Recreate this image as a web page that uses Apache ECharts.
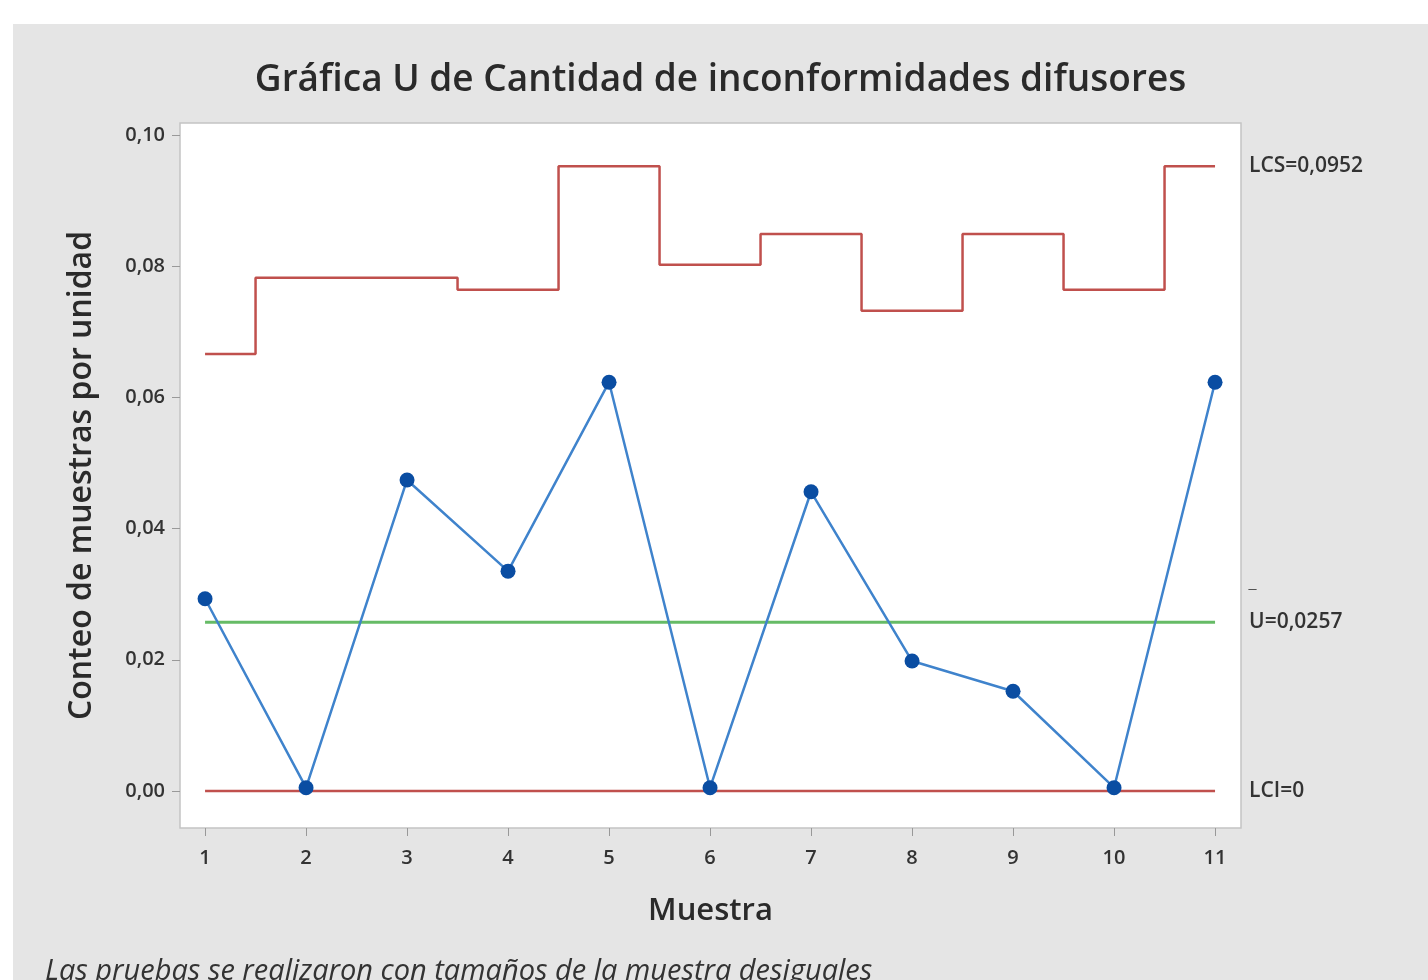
<!DOCTYPE html>
<html>
<head>
<meta charset="utf-8">
<script src="https://cdn.jsdelivr.net/npm/echarts@6/dist/echarts.min.js"></script>
<style>
  html, body { margin: 0; padding: 0; background: #fff; }
  #uchart { position: absolute; left: 13px; top: 24px; width: 1415px; height: 956px; background: #e5e5e5; }
</style>
</head>
<body>
<div id="uchart"></div>
<script>
// muestras y valores U
const samples = [1, 2, 3, 4, 5, 6, 7, 8, 9, 10, 11]
const uValues = [0.0293, 0.0005, 0.0474, 0.0335, 0.0623, 0.0005, 0.0456, 0.0198, 0.0152, 0.0005, 0.0623]
const uclValues = [0.0666, 0.0782, 0.0782, 0.0764, 0.0952, 0.0802, 0.0849, 0.0732, 0.0849, 0.0764, 0.0952]
const centerLine = 0.0257
const lowerLimit = 0
const yTicks = [0, 0.02, 0.04, 0.06, 0.08, 0.10]

const fmt = v => v.toFixed(2).replace('.', ',')
const font = 'Open Sans'
const red = '#c0504d'

const chart = echarts.init(document.getElementById('uchart'))

chart.setOption({
  animation: false,
  textStyle: { fontFamily: font },
  title: {
    text: 'Gráfica U de Cantidad de inconformidades difusores',
    left: 'center',
    top: 33,
    textStyle: { fontSize: 37, fontWeight: 600, color: '#2a2a2a', fontFamily: font }
  },
  grid: {
    left: 167, top: 99, width: 1061, height: 705,
    show: true, backgroundColor: '#fff', borderColor: '#c4c4c4', borderWidth: 1.5
  },
  xAxis: {
    type: 'value',
    min: 0.752,
    max: 11.257,
    name: 'Muestra',
    nameLocation: 'middle',
    nameGap: 68,
    nameTextStyle: { fontSize: 31, fontWeight: 600, color: '#2a2a2a' },
    splitLine: { show: false },
    axisLine: { show: false, onZero: false },
    axisTick: { show: true, length: 8, lineStyle: { color: '#999' }, customValues: samples },
    axisLabel: { fontSize: 20, fontWeight: 600, color: '#333', margin: 20, customValues: samples }
  },
  yAxis: {
    type: 'value',
    min: -0.00564,
    max: 0.1018,
    name: 'Conteo de muestras por unidad',
    nameLocation: 'middle',
    nameGap: 82,
    nameTextStyle: { fontSize: 32, fontWeight: 600, color: '#2a2a2a' },
    splitLine: { show: false },
    axisLine: { show: false, onZero: false },
    axisTick: { show: true, length: 8, lineStyle: { color: '#999' }, customValues: yTicks },
    axisLabel: { fontSize: 20, fontWeight: 600, color: '#333', margin: 15, customValues: yTicks, formatter: fmt }
  },
  graphic: [{
    type: 'text',
    left: 32,
    top: 933,
    style: {
      text: 'Las pruebas se realizaron con tamaños de la muestra desiguales',
      font: 'italic 29px "Open Sans"',
      fill: '#333'
    }
  }],
  series: [
    {
      name: 'LCS',
      type: 'line',
      step: 'middle',
      symbol: 'none',
      data: samples.map((s, i) => [s, uclValues[i]]),
      lineStyle: { color: red, width: 2.5 },
      endLabel: { show: true, distance: 34, formatter: 'LCS=0,0952', fontSize: 21, fontWeight: 600, color: '#333' }
    },
    {
      name: 'U',
      type: 'line',
      symbol: 'none',
      data: [[samples[0], centerLine], [samples[samples.length - 1], centerLine]],
      lineStyle: { color: '#66bb66', width: 3 },
      endLabel: {
        show: true, distance: 34, offset: [0, -10],
        formatter: '{bar|‾}\n{t|U=0,0257}',
        rich: {
          bar: { fontSize: 21, fontWeight: 700, color: '#333', lineHeight: 20 },
          t: { fontSize: 21, fontWeight: 600, color: '#333', lineHeight: 24 }
        }
      }
    },
    {
      name: 'LCI',
      type: 'line',
      symbol: 'none',
      data: [[samples[0], lowerLimit], [samples[samples.length - 1], lowerLimit]],
      lineStyle: { color: red, width: 2.5 },
      endLabel: { show: true, distance: 34, formatter: 'LCI=0', fontSize: 21, fontWeight: 600, color: '#333' }
    },
    {
      name: 'U muestra',
      type: 'line',
      symbol: 'circle',
      symbolSize: 15,
      data: samples.map((s, i) => [s, uValues[i]]),
      lineStyle: { color: '#3f83cc', width: 2.5 },
      itemStyle: { color: '#0a4da2' },
      z: 5
    }
  ]
})
</script>
</body>
</html>
